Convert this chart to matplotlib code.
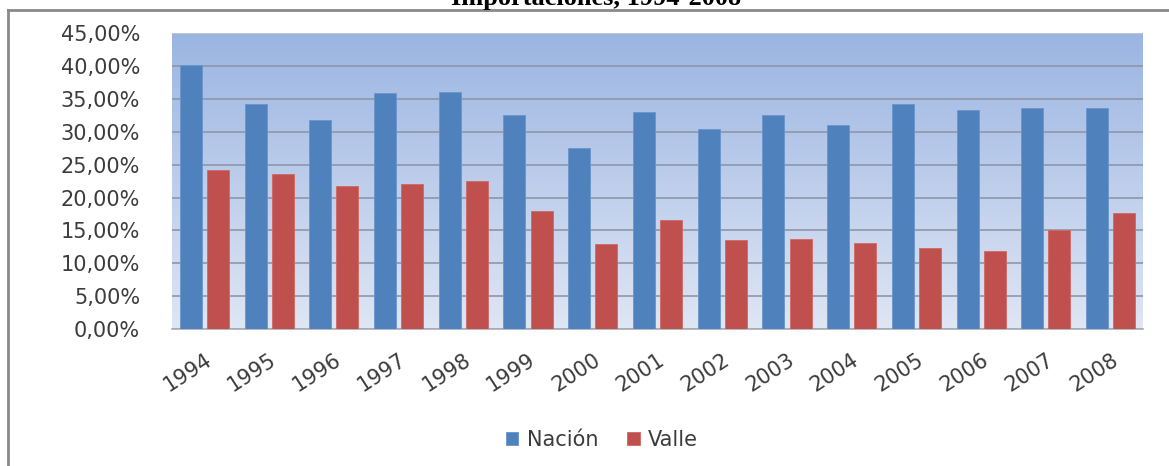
import numpy as np
import matplotlib
matplotlib.use("Agg")
import matplotlib.pyplot as plt
from matplotlib.colors import LinearSegmentedColormap
from matplotlib.ticker import FuncFormatter, MultipleLocator

years = ["1994", "1995", "1996", "1997", "1998", "1999", "2000", "2001",
         "2002", "2003", "2004", "2005", "2006", "2007", "2008"]
nacion = [40.1, 34.3, 31.8, 35.9, 36.1, 32.5, 27.5, 33.0,
          30.4, 32.5, 31.1, 34.3, 33.4, 33.7, 33.7]
valle = [24.25, 23.6, 21.8, 22.1, 22.5, 17.9, 13.0, 16.6,
         13.5, 13.7, 13.1, 12.3, 11.8, 15.1, 17.6]
series_names = ["Nación", "Valle"]
title_text = "Importaciones, 1994-2008"

text_color = "#3c3c3c"
c_nacion = "#4F81BD"
c_valle = "#C0504D"

fig = plt.figure(figsize=(11.69, 4.66), dpi=100)
ax = fig.add_axes([172 / 1169, 1 - 329 / 466, (1143 - 172) / 1169, (329 - 33.3) / 466])

x = np.arange(len(years))
w = 0.34
off = 0.21

# gradient background
grad = np.linspace(0, 1, 256).reshape(-1, 1)
cmap = LinearSegmentedColormap.from_list("bg", ["#DFE6F4", "#9BB5E2"])
ax.imshow(grad, aspect="auto", cmap=cmap, origin="lower",
          extent=[-0.5, len(years) - 0.5, 0, 45], zorder=0)

ax.bar(x - off, nacion, w, color=c_nacion, edgecolor="#6A95CC", linewidth=0.6,
       zorder=3, label=series_names[0])
ax.bar(x + off, valle, w, color=c_valle, edgecolor="#D06865", linewidth=0.6,
       zorder=3, label=series_names[1])

ax.set_xlim(-0.5, len(years) - 0.5)
ax.set_ylim(0, 45)
ax.yaxis.set_major_locator(MultipleLocator(5))
ax.yaxis.set_major_formatter(FuncFormatter(lambda v, p: f"{v:.2f}%".replace(".", ",")))
ax.grid(axis="y", color="#8E97A8", linewidth=1.2, zorder=1)
ax.set_axisbelow(True)
for s in ["left", "right", "top"]:
    ax.spines[s].set_visible(False)
ax.spines["bottom"].set_color("#A8AEB8")
ax.spines["bottom"].set_linewidth(1.2)
ax.axhline(45, color="#C9CED8", linewidth=1.2, zorder=2)

ax.tick_params(axis="y", length=0, labelsize=15, colors=text_color, pad=23)
ax.set_xticks(x)
ax.set_xticklabels(years, rotation=33, ha="right", va="top",
                   rotation_mode="anchor", fontsize=15, color=text_color)
ax.tick_params(axis="x", length=0, pad=15)

leg = fig.legend(loc="center", bbox_to_anchor=(602 / 1169, 1 - 440 / 466),
                 ncol=2, frameon=False, fontsize=15, handlelength=0.6,
                 handleheight=0.6, handletextpad=0.4, columnspacing=1.4)
for t in leg.get_texts():
    t.set_color(text_color)

# outer frame lines
fig.add_artist(plt.Line2D([8 / 1169, 1], [1 - 10 / 466, 1 - 10 / 466],
                          transform=fig.transFigure, color="#8A8A8A", linewidth=2))
fig.add_artist(plt.Line2D([8 / 1169, 8 / 1169], [0, 1 - 10 / 466],
                          transform=fig.transFigure, color="#8A8A8A", linewidth=2))

# clipped title at the top (partially outside, as in the reference)
fig.text(596 / 1169, 1 - 5 / 466, title_text, ha="center", va="baseline",
         fontsize=19, fontweight="bold", family="Liberation Serif", color="black")

fig.savefig("out.png", dpi=100)
